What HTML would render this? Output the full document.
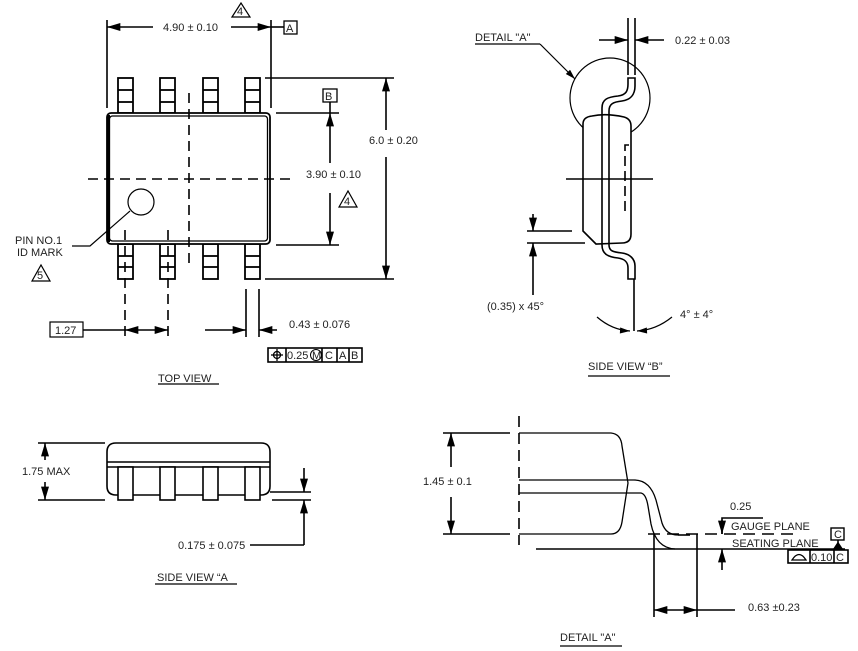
<!DOCTYPE html>
<html><head><meta charset="utf-8"><style>
html,body{margin:0;padding:0;background:#fff;}
svg{display:block;}
text{font-family:"Liberation Sans",Arial,sans-serif;font-size:11px;fill:#222;}
</style></head><body>
<svg width="858" height="651" viewBox="0 0 858 651" xmlns="http://www.w3.org/2000/svg">
<defs>
<marker id="ar" viewBox="0 0 10 6" refX="10" refY="3" markerWidth="9" markerHeight="5" orient="auto-start-reverse"><path d="M0,0 L10,3 L0,6 z" fill="#000"/></marker>
</defs>
<g stroke="#000" stroke-width="1.6" fill="none">
<!-- ===== TOP VIEW ===== -->
<line x1="107" y1="20" x2="107" y2="108"/>
<line x1="271" y1="20" x2="271" y2="108"/>
<line x1="107" y1="27" x2="153" y2="27" marker-start="url(#ar)"/>
<line x1="231" y1="27" x2="271" y2="27" marker-end="url(#ar)"/>
<line x1="271" y1="27" x2="284" y2="27"/>
<path d="M232,17 L241,3 L250,17 Z" stroke-width="1.2"/>
<rect x="284" y="21" width="13" height="13" stroke-width="1.3"/>
<g stroke-width="1.8">
<rect x="118" y="78" width="15" height="35"/><line x1="118" y1="90" x2="133" y2="90"/><line x1="118" y1="102" x2="133" y2="102"/>
<rect x="160" y="78" width="15" height="35"/><line x1="160" y1="90" x2="175" y2="90"/><line x1="160" y1="102" x2="175" y2="102"/>
<rect x="203" y="78" width="15" height="35"/><line x1="203" y1="90" x2="218" y2="90"/><line x1="203" y1="102" x2="218" y2="102"/>
<rect x="245" y="78" width="15" height="35"/><line x1="245" y1="90" x2="260" y2="90"/><line x1="245" y1="102" x2="260" y2="102"/>
<rect x="118" y="244" width="15" height="35"/><line x1="118" y1="256" x2="133" y2="256"/><line x1="118" y1="267" x2="133" y2="267"/>
<rect x="160" y="244" width="15" height="35"/><line x1="160" y1="256" x2="175" y2="256"/><line x1="160" y1="267" x2="175" y2="267"/>
<rect x="203" y="244" width="15" height="35"/><line x1="203" y1="256" x2="218" y2="256"/><line x1="203" y1="267" x2="218" y2="267"/>
<rect x="245" y="244" width="15" height="35"/><line x1="245" y1="256" x2="260" y2="256"/><line x1="245" y1="267" x2="260" y2="267"/>
</g>
<rect x="107" y="113" width="163" height="131" rx="4" fill="#fff" stroke-width="1.8"/>
<rect x="109.5" y="116" width="158" height="125" rx="3" stroke-width="1.3"/>
<line x1="108.5" y1="115" x2="108.5" y2="242" stroke-width="3"/>
<line x1="189" y1="93" x2="189" y2="266" stroke-dasharray="10,6"/>
<line x1="88" y1="179" x2="290" y2="179" stroke-dasharray="10,6"/>
<circle cx="141" cy="202" r="13" stroke-width="1.2"/>
<polyline points="72,246 90,246 130,211" stroke-width="1.2"/>
<path d="M32,281 L41,265 L50,281 Z" stroke-width="1.2"/>
<line x1="265" y1="78" x2="394" y2="78"/>
<line x1="265" y1="279" x2="394" y2="279"/>
<line x1="276" y1="113" x2="339" y2="113"/>
<line x1="276" y1="245" x2="339" y2="245"/>
<line x1="386" y1="78" x2="386" y2="130" marker-start="url(#ar)"/>
<line x1="386" y1="157" x2="386" y2="279" marker-end="url(#ar)"/>
<line x1="330" y1="113" x2="330" y2="163" marker-start="url(#ar)"/>
<line x1="330" y1="193" x2="330" y2="245" marker-end="url(#ar)"/>
<line x1="330" y1="102" x2="330" y2="113"/>
<rect x="323" y="89" width="14" height="13" stroke-width="1.3"/>
<path d="M339,207 L348,191 L357,207 Z" stroke-width="1.2"/>
<line x1="125" y1="230" x2="125" y2="337" stroke-dasharray="10,6"/>
<line x1="168" y1="230" x2="168" y2="337" stroke-dasharray="10,6"/>
<line x1="246" y1="289" x2="246" y2="337"/>
<line x1="259" y1="289" x2="259" y2="337"/>
<line x1="83" y1="330" x2="125" y2="330"/>
<line x1="125" y1="330" x2="168" y2="330" marker-start="url(#ar)" marker-end="url(#ar)"/>
<line x1="205" y1="330" x2="246" y2="330" marker-end="url(#ar)"/>
<line x1="277" y1="330" x2="259" y2="330" marker-end="url(#ar)"/>
<rect x="50" y="322" width="33" height="15" stroke-width="1.2"/>
<rect x="268" y="348" width="94" height="14" stroke-width="1.6"/>
<line x1="286" y1="348" x2="286" y2="362"/><line x1="322" y1="348" x2="322" y2="362"/>
<line x1="337" y1="348" x2="337" y2="362"/><line x1="349" y1="348" x2="349" y2="362"/>
<circle cx="277" cy="355" r="3.5" stroke-width="1.3"/>
<line x1="271" y1="355" x2="283" y2="355" stroke-width="1.3"/><line x1="277" y1="349" x2="277" y2="361" stroke-width="1.3"/>
<circle cx="316" cy="355" r="5.5" stroke-width="1"/>
<line x1="158" y1="384" x2="219" y2="384" stroke-width="1.2"/>

<!-- ===== SIDE VIEW B ===== -->
<line x1="475" y1="44" x2="540" y2="44" stroke-width="1.2"/>
<line x1="540" y1="44" x2="575" y2="79" stroke-width="1.2" marker-end="url(#ar)"/>
<circle cx="610" cy="98" r="40" stroke-width="1.2"/>
<line x1="628" y1="18" x2="628" y2="75"/>
<line x1="635" y1="18" x2="635" y2="75"/>
<line x1="599" y1="40" x2="628" y2="40" marker-end="url(#ar)"/>
<line x1="664" y1="40" x2="635" y2="40" marker-end="url(#ar)"/>
<path d="M583,124 Q583,117 592,116 Q606,113 624,117 Q631,119 631,126 L631,234 Q631,243 622,243 L596,244 L583,231 Z" fill="#fff"/>
<path d="M602,245 L602,108 C602,99 608,97 618,96 C626,95 628,91 628,84 L628,78 L635,78 L635,86 C635,95 630,100 622,101 C613,102 609,104 609,111 L609,245 C609,251 613,252 622,253 C630,254 635,259 635,266 L635,279 L628,279 L628,268 C628,262 625,259 618,258 C608,257 602,254 602,245"/>
<line x1="634" y1="279" x2="634" y2="331"/>
<line x1="566" y1="179" x2="653" y2="179"/>
<polyline points="629,145 625,145 625,212 629,212" stroke-dasharray="10,5"/>
<line x1="527" y1="231" x2="572" y2="231"/>
<line x1="527" y1="243" x2="585" y2="243"/>
<line x1="533" y1="214" x2="533" y2="231" marker-end="url(#ar)"/>
<line x1="533" y1="295" x2="533" y2="243" marker-end="url(#ar)"/>
<path d="M597,317 Q612,330 630,331" stroke-width="1.2" marker-end="url(#ar)"/>
<path d="M672,317 Q656,330 637,331" stroke-width="1.2" marker-end="url(#ar)"/>
<line x1="588" y1="376" x2="670" y2="376" stroke-width="1.2"/>

<!-- ===== SIDE VIEW A ===== -->
<path d="M107,452 Q107,443 116,443 L261,443 Q270,443 270,452 L270,486 Q270,495 261,495 L116,495 Q107,495 107,486 Z"/>
<line x1="107" y1="462" x2="270" y2="462"/>
<line x1="107" y1="467" x2="270" y2="467"/>
<g fill="#fff">
<rect x="118" y="467" width="15" height="33"/>
<rect x="160" y="467" width="15" height="33"/>
<rect x="203" y="467" width="15" height="33"/>
<rect x="245" y="467" width="15" height="33"/>
</g>
<line x1="38" y1="443" x2="105" y2="443"/>
<line x1="38" y1="500" x2="105" y2="500"/>
<line x1="45" y1="443" x2="45" y2="460" marker-start="url(#ar)"/>
<line x1="45" y1="482" x2="45" y2="500" marker-end="url(#ar)"/>
<line x1="270" y1="492" x2="311" y2="492"/>
<line x1="272" y1="500" x2="311" y2="500"/>
<line x1="304" y1="468" x2="304" y2="492" marker-end="url(#ar)"/>
<line x1="304" y1="545" x2="304" y2="500" marker-end="url(#ar)"/>
<line x1="250" y1="545" x2="304" y2="545"/>
<line x1="155" y1="584" x2="237" y2="584" stroke-width="1.2"/>

<!-- ===== DETAIL A ===== -->
<line x1="519" y1="416" x2="519" y2="545" stroke-dasharray="11,6"/>
<line x1="443" y1="433" x2="510" y2="433"/>
<line x1="443" y1="534" x2="510" y2="534"/>
<path d="M519,433 L611,433 Q621,434 622,446 L628,483 L622,522 Q620,534 611,534 L519,534" stroke-width="1.3"/>
<path d="M519,480 L634,480 Q650,480 656,500 L662,523 Q666,535 678,535" stroke-width="1.3"/>
<path d="M519,493 L641,493 Q646,494 648,506 L651,524 Q656,548 675,549" stroke-width="1.3"/>
<line x1="451" y1="433" x2="451" y2="467" marker-start="url(#ar)"/>
<line x1="451" y1="497" x2="451" y2="534" marker-end="url(#ar)"/>
<line x1="648" y1="534" x2="795" y2="534" stroke-dasharray="12,7"/>
<line x1="678" y1="535" x2="690" y2="535"/>
<line x1="536" y1="549" x2="845" y2="549"/>
<line x1="654" y1="534" x2="654" y2="617"/>
<line x1="697" y1="534" x2="697" y2="617"/>
<line x1="654" y1="610" x2="697" y2="610" marker-start="url(#ar)" marker-end="url(#ar)"/>
<line x1="697" y1="610" x2="735" y2="610"/>
<polyline points="763,518 722,518 722,534" />
<line x1="722" y1="520" x2="722" y2="534" marker-end="url(#ar)"/>
<line x1="722" y1="570" x2="722" y2="549" marker-end="url(#ar)"/>
<rect x="831" y="528" width="13" height="12" stroke-width="1.4"/>
<line x1="838" y1="540" x2="838" y2="549"/>
<path d="M834,549 L838,543 L842,549 Z" fill="#000"/>
<rect x="788" y="550" width="60" height="13" stroke-width="1.6"/>
<line x1="810" y1="550" x2="810" y2="563"/><line x1="834" y1="550" x2="834" y2="563"/>
<path d="M792,560 Q799,549 806,560 Z" stroke-width="1.3"/>
<line x1="560" y1="646" x2="622" y2="646" stroke-width="1.2"/>
</g>
<text x="163" y="31">4.90 ± 0.10</text>
<text x="237" y="15" font-size="10">4</text>
<text x="286" y="32" font-size="10">A</text>
<text x="325" y="100" font-size="10">B</text>
<text x="369" y="144">6.0 ± 0.20</text>
<text x="306" y="178">3.90 ± 0.10</text>
<text x="344" y="205" font-size="10">4</text>
<text x="15" y="244">PIN NO.1</text>
<text x="17" y="256">ID MARK</text>
<text x="37" y="279" font-size="10">5</text>
<text x="55" y="334">1.27</text>
<text x="289" y="328">0.43 ± 0.076</text>
<text x="287" y="359" font-size="10">0.25</text>
<text x="312" y="359" font-size="8">M</text>
<text x="325" y="359" font-size="10">C</text>
<text x="339" y="359" font-size="10">A</text>
<text x="351" y="359" font-size="10">B</text>
<text x="158" y="382">TOP VIEW</text>
<text x="475" y="41">DETAIL "A"</text>
<text x="675" y="44">0.22 ± 0.03</text>
<text x="487" y="310">(0.35) x 45°</text>
<text x="680" y="318">4° ± 4°</text>
<text x="588" y="370">SIDE VIEW “B”</text>
<text x="22" y="475">1.75 MAX</text>
<text x="178" y="549">0.175 ± 0.075</text>
<text x="157" y="581">SIDE VIEW “A</text>
<text x="423" y="485">1.45 ± 0.1</text>
<text x="730" y="510">0.25</text>
<text x="731" y="530">GAUGE PLANE</text>
<text x="732" y="547">SEATING PLANE</text>
<text x="834" y="538" font-size="10">C</text>
<text x="811" y="561" font-size="10">0.10</text>
<text x="836" y="561" font-size="10">C</text>
<text x="748" y="611">0.63 ±0.23</text>
<text x="560" y="641">DETAIL "A"</text>
</svg>
</body></html>
